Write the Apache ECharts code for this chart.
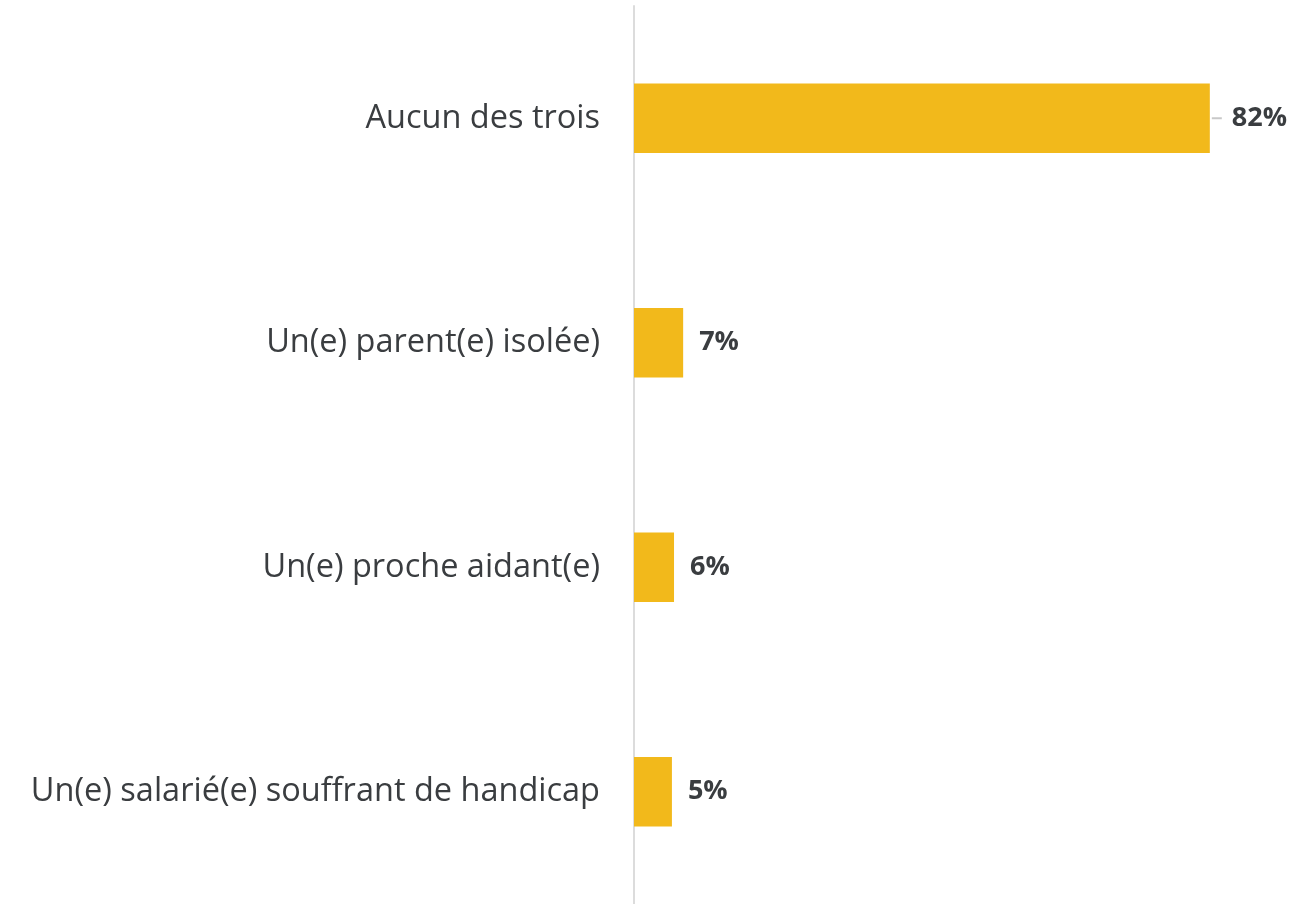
<!DOCTYPE html>
<html>
<head>
<meta charset="utf-8">
<script src="https://cdn.jsdelivr.net/npm/echarts@6/dist/echarts.min.js"></script>
<style>
  html, body { margin: 0; padding: 0; background: #fff; }
  #chart { width: 1315px; height: 904px; }
</style>
</head>
<body>
<div id="chart"></div>
<script>
// données
const categories = [
  "Aucun des trois",
  "Un(e) parent(e) isolée)",
  "Un(e) proche aidant(e)",
  "Un(e) salarié(e) souffrant de handicap"
];
const values = [82, 7, 5.7, 5.4];

const barColor = "#F2B91B";
const textColor = "#3a3d40";

let myChart = echarts.init(document.getElementById("chart"));

const seriesData = values.map(function (v, i) {
  if (i === 0) {
    // le premier libellé a un petit trait gris devant
    return {
      value: v,
      label: {
        distance: 2,
        formatter: "{l|}{s|}{v|" + Math.round(v) + "%}",
        rich: {
          l: { width: 10, height: 2, backgroundColor: "#c8c8c8" },
          s: { width: 10 },
          v: { fontSize: 27, fontWeight: "bold", color: textColor, fontFamily: "Open Sans" }
        }
      }
    };
  }
  return { value: v };
});

myChart.setOption({
  animation: false,
  grid: {
    left: 634,
    top: 6,
    height: 900,
    width: 632
  },
  xAxis: {
    type: "value",
    min: 0,
    max: 90,
    show: false
  },
  yAxis: {
    type: "category",
    inverse: true,
    data: categories,
    axisLine: { show: true, lineStyle: { color: "#dcdcdc", width: 2 } },
    axisTick: { show: false },
    axisLabel: {
      margin: 34,
      fontSize: 32.5,
      color: textColor,
      fontFamily: "Open Sans"
    }
  },
  series: [
    {
      type: "bar",
      data: seriesData,
      barWidth: "31%",
      itemStyle: { color: barColor },
      label: {
        show: true,
        position: "right",
        distance: 16,
        fontSize: 27,
        fontWeight: "bold",
        color: textColor,
        fontFamily: "Open Sans",
        formatter: function (p) {
          return Math.round(p.value) + "%";
        }
      }
    }
  ]
});
</script>
</body>
</html>
